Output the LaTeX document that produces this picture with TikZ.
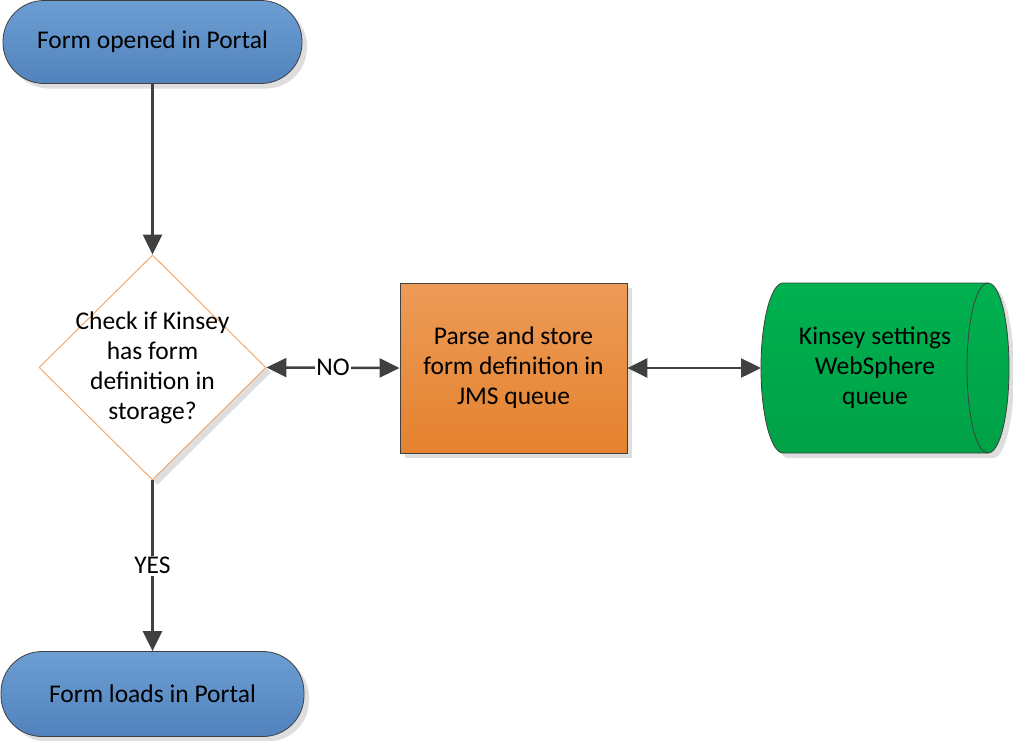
\documentclass[tikz,border=0pt]{standalone}
\usepackage{fontspec}
\setmainfont{Carlito}
\usetikzlibrary{shapes.geometric,arrows.meta,shadows}
\definecolor{lineg}{HTML}{404040}
\definecolor{bluetop}{HTML}{6C9ED3}
\definecolor{bluebot}{HTML}{5282BC}
\definecolor{orgtop}{HTML}{EC9B57}
\definecolor{orgbot}{HTML}{E5822F}
\definecolor{grntop}{HTML}{00B150}
\definecolor{grnbot}{HTML}{00A146}
\definecolor{diaedge}{HTML}{F2A464}
\begin{document}
\begin{tikzpicture}[x=1pt,y=-1pt,
  txtfont/.style={font=\fontsize{25.5}{30}\selectfont},
  shad/.style={drop shadow={shadow xshift=5pt,shadow yshift=-5pt,fill=black!13,opacity=1}},
  term/.style={rectangle,rounded corners=41pt,draw=lineg,line width=0.8pt,
    top color=bluetop,bottom color=bluebot,txtfont,shad,inner sep=0pt},
  proc/.style={rectangle,draw=lineg,line width=0.8pt,top color=orgtop,bottom color=orgbot,
    txtfont,shad,align=center,inner sep=0pt},
  dia/.style={diamond,draw=diaedge,line width=0.9pt,fill=white,inner sep=0pt,shad},
  txt/.style={txtfont,align=center,inner sep=0pt,text=black},
  lbl/.style={txtfont,fill=white,inner sep=1.5pt,text=black},
  arr/.style={draw=lineg,line width=2.5pt,-{Triangle[length=20pt,width=19pt]},color=lineg},
  arrb/.style={draw=lineg,line width=2.5pt,{Triangle[length=20pt,width=19pt]}-{Triangle[length=20pt,width=19pt]},color=lineg}
]
\useasboundingbox (0,0) rectangle (1013,740);

% terminators
\node[term,minimum width=299pt,minimum height=83pt] (start) at (152.5,42) {Form opened in Portal};
\node[term,minimum width=303pt,minimum height=85pt] (end) at (152.5,694) {Form loads in Portal};

% decision
\node[dia,minimum width=227pt,minimum height=225pt] (check) at (152.5,367.5) {};
\node[txt] (checkt) at (check.center) {Check if Kinsey\\has form\\definition in\\storage?};

% process
\node[proc,minimum width=227pt,minimum height=170pt] (parse) at (513.5,368) {Parse and store\\form definition in\\JMS queue};

% stored data (queue) shape
\path[shad,draw=lineg,line width=0.8pt,top color=grntop,bottom color=grnbot]
  (783,283) -- (988,283)
  .. controls (1000,283) and (1009,321) .. (1009,368)
  .. controls (1009,415) and (1000,453) .. (988,453)
  -- (783,453)
  .. controls (771,453) and (761,415) .. (761,368)
  .. controls (761,321) and (771,283) .. (783,283) -- cycle;
\draw[lineg,line width=0.8pt] (988,283)
  .. controls (976,283) and (967,321) .. (967,368)
  .. controls (967,415) and (976,453) .. (988,453);
\coordinate (qleft) at (761,368);
\node[txt] (queue) at (875,368) {Kinsey settings\\WebSphere\\queue};

% connectors
\draw[arr] (start.south) -- (check.north);
\draw[arrb] (check.east) -- node[lbl] (no) {NO} (parse.west);
\draw[arrb] (parse.east) -- (qleft);
\draw[arr] (check.south) -- node[lbl] (yes) {YES} (end.north);
\end{tikzpicture}
\end{document}
